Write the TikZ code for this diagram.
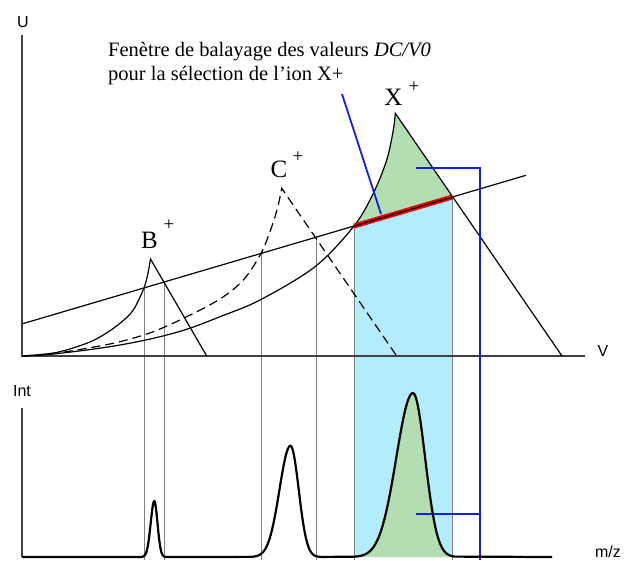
\documentclass[tikz,border=0pt]{standalone}
\usepackage{fontspec}
\setmainfont{Liberation Serif}
\newfontfamily\axfont{Liberation Sans}
\definecolor{lblue}{RGB}{179,236,252}
\definecolor{lgreen}{RGB}{179,222,178}
\definecolor{pblue}{RGB}{20,30,235}
\definecolor{axgray}{RGB}{64,64,64}
\definecolor{vgray}{RGB}{128,128,128}
\definecolor{sred}{RGB}{235,0,0}
\begin{document}
\begin{tikzpicture}[x=1pt,y=-1pt,
  declare function={pk(\t,\c,\s)=exp(-0.5*((\t-\c)/\s)*((\t-\c)/\s));},
  axis/.style={draw=axgray, line width=1.6pt},
  curve/.style={draw=black, line width=1.2pt},
  guide/.style={draw=vgray, line width=1pt},
  ptr/.style={draw=pblue, line width=1.8pt},
  spec/.style={draw=black, line width=2.2pt, line join=round},
  ionlbl/.style={font=\fontsize{25}{25}\selectfont, inner sep=0pt},
  pluslbl/.style={font=\fontsize{19}{19}\selectfont, inner sep=0pt},
  axlbl/.style={font=\axfont\fontsize{16}{16}\selectfont, inner sep=0pt},
  titlelbl/.style={font=\fontsize{20.5}{24}\selectfont, inner sep=0pt, anchor=base west}]
\useasboundingbox (0,0) rectangle (624,560);

\coordinate (O) at (22,356);
\coordinate (s1) at (22,323.9);
\coordinate (s2) at (526,175.3);
\coordinate (xl) at (354,226.0);
\coordinate (xr) at (452,197.1);

% light blue window
\fill[lblue] (xl) -- (xr) -- (452,557) -- (354,557) -- cycle;

% green region of X+ above the scan line
\begin{scope}
  \clip (s1) -- (s2) -- (526,0) -- (22,0) -- cycle;
  \fill[lgreen] plot[smooth,tension=0.55] coordinates{(22,356) (50,354.3) (86.7,350) (120,345) (153.3,338.3) (186.7,329.3) (220,316.7) (260,300) (315,266.7) (354,226) (373.3,193.3) (386.7,160) (393.3,130) (395.3,113.3)} -- (562,356) -- cycle;
\end{scope}

% green under X peak
\fill[lgreen] (354,557) -- plot[domain=354:413,samples=40] (\x,{557-164*pk(\x,413,16.7)}) -- plot[domain=413:452,samples=30] (\x,{557-164*pk(\x,413,12.1)}) -- (452,557) -- cycle;

% grey guides
\draw[guide] (144,287.9) -- (144,560);
\draw[guide] (164,282.0) -- (164,560);
\draw[guide] (261,253.4) -- (261,560);
\draw[guide] (316,237.2) -- (316,560);
\draw[guide] (xl) -- (354,560);
\draw[guide] (xr) -- (452,560);

% axes
\draw[axis] (22,35) -- (O) -- (585,356);
\draw[axis] (22,408) -- (22,557);

% stability regions
\draw[curve] plot[smooth,tension=0.55] coordinates{(22,356) (40,354.6) (60,351.7) (86.7,343.3) (103.3,335) (120,323.3) (133.3,310) (144,287.9) (148,273) (150.5,259)} -- (206.7,356);
\draw[curve, dash pattern=on 9pt off 5pt] plot[smooth,tension=0.55] coordinates{(22,356) (50,354) (86.7,348.3) (120,341.7) (153.3,331.7) (186.7,316.7) (220,299) (243.3,280) (261,253.4) (272,226) (278,206) (281.7,188.3)} -- (396.7,356);
\draw[curve] plot[smooth,tension=0.55] coordinates{(22,356) (50,354.3) (86.7,350) (120,345) (153.3,338.3) (186.7,329.3) (220,316.7) (260,300) (315,266.7) (354,226) (373.3,193.3) (386.7,160) (393.3,130) (395.3,113.3)} -- (562,356);

% scan line
\draw[sred, line width=5pt] (xl) -- (xr);
\draw[curve] (s1) -- (s2);

% blue pointers
\draw[ptr] (342,94) -- (381,214);
\draw[ptr] (416,168) -- (480,168) -- (480,560);
\draw[ptr] (416,514) -- (480,514);

% spectrum
\draw[spec] (22,557) -- (140,557)
  -- plot[domain=140:154.3,samples=20] (\x,{557-56*pk(\x,154.3,3.6)})
  -- plot[domain=154.3:168,samples=20] (\x,{557-56*pk(\x,154.3,3.2)})
  -- plot[domain=250:290.5,samples=30] (\x,{557-111.3*pk(\x,290.5,11)})
  -- plot[domain=290.5:322,samples=30] (\x,{557-111.3*pk(\x,290.5,8.2)})
  -- plot[domain=354:413,samples=40] (\x,{557-164*pk(\x,413,16.7)})
  -- plot[domain=413:455,samples=30] (\x,{557-164*pk(\x,413,12.1)})
  -- (552,557);

% labels
\node[ionlbl, anchor=base] (B) at (149.5,248) {B};
\node[pluslbl] (Bp) at (169,225) {+};
\node[ionlbl, anchor=base] (C) at (279,177) {C};
\node[pluslbl] (Cp) at (298,157) {+};
\node[ionlbl, anchor=base] (X) at (393.4,105) {X};
\node[pluslbl] (Xp) at (414,87) {+};

\node[titlelbl] (t1) at (108,56) {Fenètre de balayage des valeurs \textit{DC/V0}};
\node[titlelbl] (t2) at (108,80) {pour la sélection de l'ion X+};

\node[axlbl] (U) at (23,22) {U};
\node[axlbl] (V) at (603,351) {V};
\node[axlbl] (Int) at (22,391) {Int};
\node[axlbl] (mz) at (608,552) {m/z};
\end{tikzpicture}
\end{document}
